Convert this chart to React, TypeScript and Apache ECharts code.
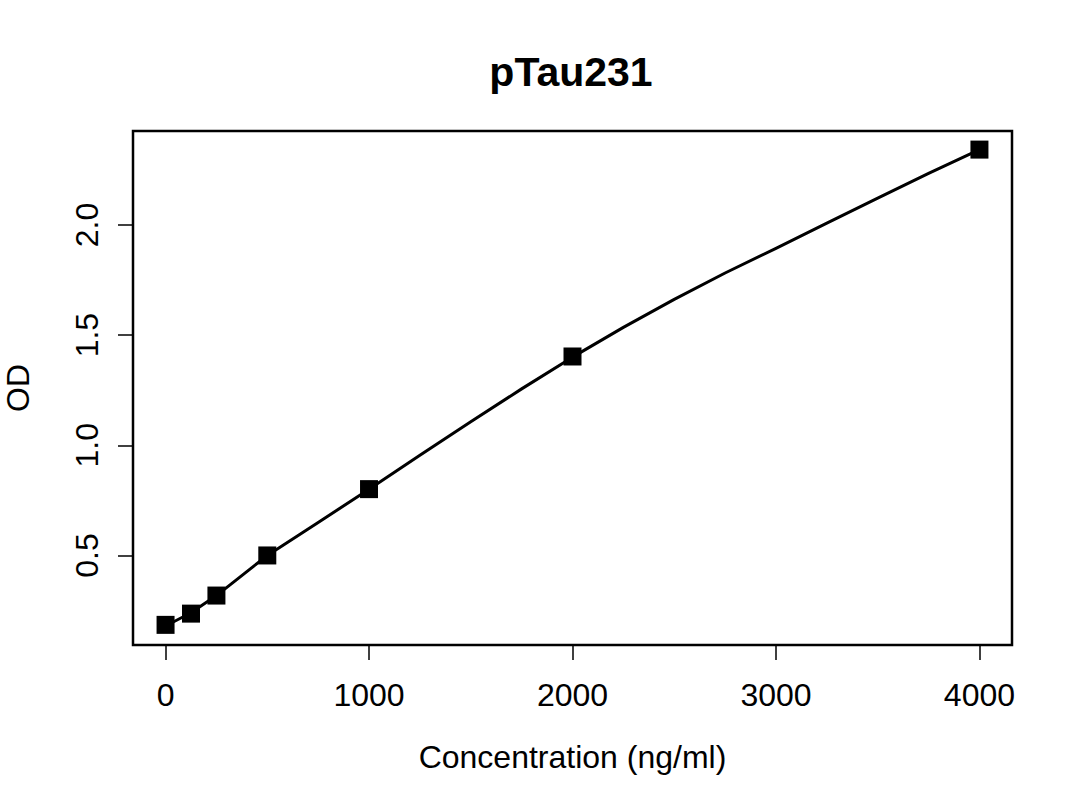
import React, { useEffect, useRef } from "react";
import * as echarts from "echarts";

// standard points (concentration, OD)
const concentrations = [0, 125, 250, 500, 1000, 2000, 4000];
const odValues = [0.185, 0.236, 0.318, 0.5, 0.801, 1.403, 2.342];

// fitted curve
const curveX = [0, 125, 250, 500, 750, 1000, 1250, 1500, 1750, 2000, 2250, 2500, 2750, 3000, 3250, 3500, 3750, 4000];
const curveY = [0.18, 0.24, 0.318, 0.5, 0.65, 0.8, 0.955, 1.107, 1.256, 1.4, 1.535, 1.662, 1.782, 1.894, 2.008, 2.122, 2.234, 2.342];

const xTicks = [0, 1000, 2000, 3000, 4000];
const yTicks = [0.5, 1.0, 1.5, 2.0];

const FONT = '"Liberation Sans", Arial, Helvetica, sans-serif';

const App = () => {
  const chartRef = useRef<HTMLDivElement>(null);

  useEffect(() => {
    if (!chartRef.current) return;
    const chart = echarts.init(chartRef.current, null, { renderer: "svg" });

    const option: echarts.EChartsCoreOption = {
      animation: false,
      backgroundColor: "#ffffff",
      title: {
        text: "pTau231",
        left: 566,
        top: 46,
        textAlign: "center",
        textStyle: { fontFamily: FONT, fontSize: 41, fontWeight: "bold", color: "#000" },
      },
      grid: {
        left: 133,
        top: 131,
        width: 879,
        height: 514,
        show: true,
        borderColor: "#000",
        borderWidth: 2.5,
        backgroundColor: "transparent",
        outerBoundsMode: "none",
        containLabel: false,
      },
      xAxis: {
        type: "value",
        min: -160,
        max: 4160,
        name: "Concentration (ng/ml)",
        nameLocation: "middle",
        nameGap: 96,
        nameTextStyle: { fontFamily: FONT, fontSize: 32, color: "#000" },
        axisLine: { show: false, onZero: false },
        splitLine: { show: false },
        axisTick: {
          show: true,
          length: 15,
          customValues: xTicks,
          lineStyle: { color: "#000", width: 1.5 },
        },
        axisLabel: {
          customValues: xTicks,
          margin: 34,
          fontFamily: FONT,
          fontSize: 32,
          color: "#000",
          formatter: (v: number) => String(v),
        },
      },
      yAxis: {
        type: "value",
        min: 0.0936,
        max: 2.4264,
        name: "OD",
        nameLocation: "middle",
        nameGap: 99,
        nameRotate: 90,
        nameTextStyle: { fontFamily: FONT, fontSize: 32, color: "#000" },
        axisLine: { show: false, onZero: false },
        splitLine: { show: false },
        axisTick: {
          show: true,
          length: 15,
          customValues: yTicks,
          lineStyle: { color: "#000", width: 1.5 },
        },
        axisLabel: {
          customValues: yTicks,
          rotate: 90,
          margin: 30,
          fontFamily: FONT,
          fontSize: 32,
          color: "#000",
          formatter: (v: number) => v.toFixed(1),
        },
      },
      series: [
        {
          type: "line",
          data: curveX.map((x, i) => [x, curveY[i]]),
          smooth: false,
          showSymbol: false,
          lineStyle: { color: "#000", width: 3, join: "round" },
          z: 2,
        },
        {
          type: "scatter",
          data: concentrations.map((x, i) => [x, odValues[i]]),
          symbol: "rect",
          symbolSize: 18,
          itemStyle: { color: "#000", opacity: 1 },
          z: 3,
        },
      ],
    };

    chart.setOption(option);

    return () => {
      chart.dispose();
    };
  }, []);

  return (
    <div
      ref={chartRef}
      style={{ position: "fixed", left: 0, top: 0, width: 1080, height: 810, background: "#fff" }}
    />
  );
};

export default App;
